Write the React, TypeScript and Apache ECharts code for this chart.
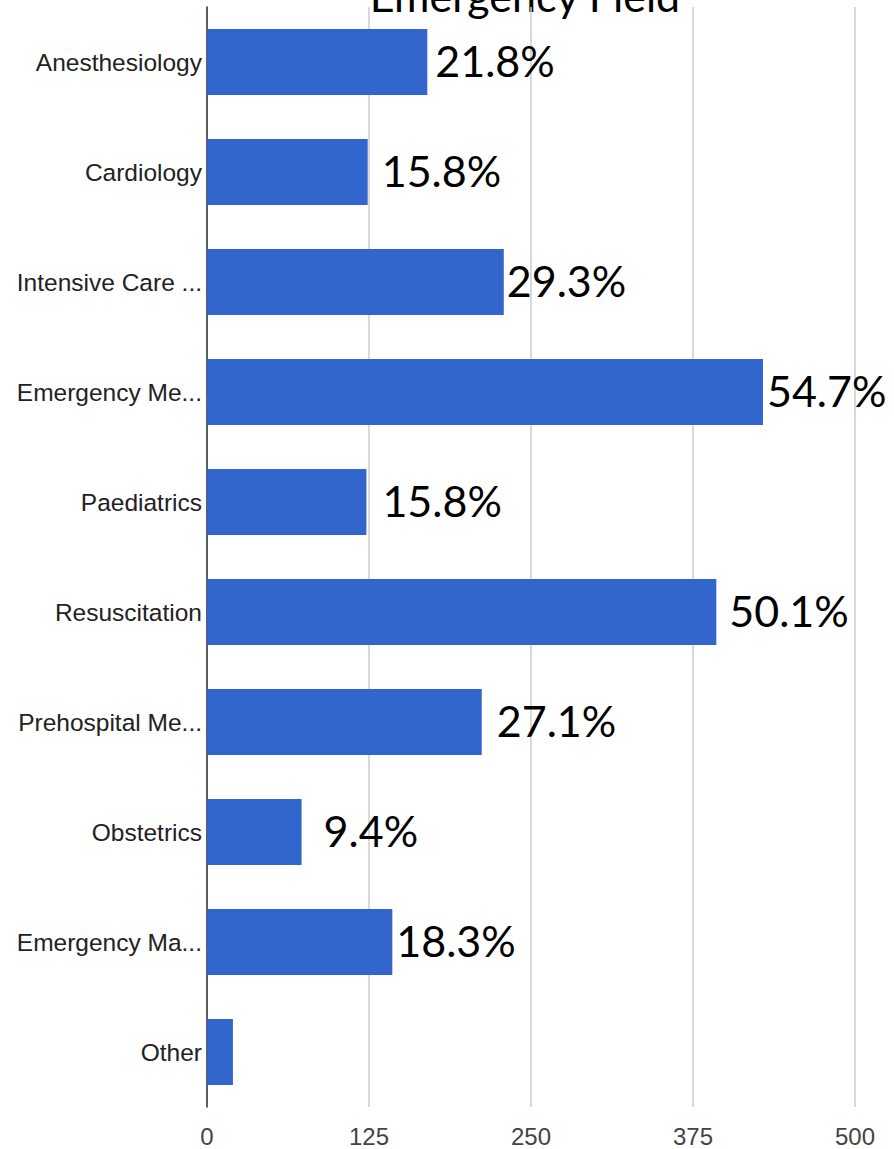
import React, { useEffect, useRef } from "react";
import * as echarts from "echarts";

const categories = [
  "Anesthesiology",
  "Cardiology",
  "Intensive Care ...",
  "Emergency Me...",
  "Paediatrics",
  "Resuscitation",
  "Prehospital Me...",
  "Obstetrics",
  "Emergency Ma...",
  "Other",
];
const values = [170, 124, 229, 429, 123, 393, 212, 73, 143, 20];
const percentLabels = ["21.8%", "15.8%", "29.3%", "54.7%", "15.8%", "50.1%", "27.1%", "9.4%", "18.3%", ""];
const labelGaps = [8, 14, 3, 4, 16, 13, 15, 22, 4, 0];
const xTicks = [0, 125, 250, 375, 500];
const titleText = "Emergency Field";

export default function App() {
  const ref = useRef<HTMLDivElement>(null);
  useEffect(() => {
    document.body.style.margin = "0";
    const chart = echarts.init(ref.current!, null, { renderer: "svg" });
    chart.setOption({
      animation: false,
      backgroundColor: "#ffffff",
      grid: { left: 207, right: 39, top: 7, bottom: 42, containLabel: false },
      graphic: [
        {
          type: "text",
          x: 525,
          y: -5,
          style: {
            text: titleText,
            fontSize: 43,
            fontFamily: "Lato",
            fill: "#000000",
            align: "center",
            verticalAlign: "middle",
          },
        },
      ],
      xAxis: {
        type: "value",
        min: xTicks[0],
        max: xTicks[xTicks.length - 1],
        interval: 125,
        axisLine: { show: false },
        axisTick: { show: false },
        splitLine: { show: true, lineStyle: { color: "#cccccc", width: 1.5 } },
        axisLabel: {
          margin: 17,
          fontSize: 24,
          color: "#444444",
          fontFamily: "Liberation Sans",
        },
      },
      yAxis: {
        type: "category",
        data: categories,
        inverse: true,
        axisLine: { show: true, lineStyle: { color: "#333333", width: 1.5 } },
        axisTick: { show: false },
        axisLabel: {
          margin: 5,
          fontSize: 24.5,
          color: "#222222",
          fontFamily: "Liberation Sans",
        },
      },
      series: [
        {
          type: "bar",
          barCategoryGap: "40%",
          z: 3,
          itemStyle: { color: "#3366cc" },
          data: values.map((v, i) => ({
            value: v,
            label: {
              show: percentLabels[i] !== "",
              position: "right",
              distance: labelGaps[i],
              offset: [0, -2],
              formatter: percentLabels[i],
              fontSize: 43,
              fontFamily: "Lato",
              color: "#000000",
            },
          })),
        },
      ],
    });
    return () => chart.dispose();
  }, []);
  return <div ref={ref} style={{ width: 894, height: 1149 }} />;
}
